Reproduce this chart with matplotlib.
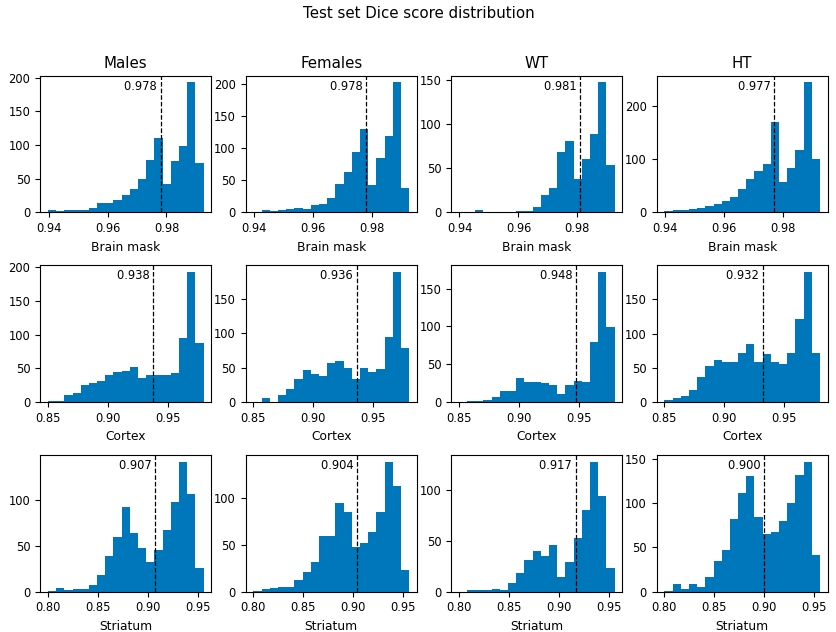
import numpy as np
import matplotlib.pyplot as plt

# groups (columns) and structures (rows)
groups = ["Males", "Females", "WT", "HT"]
structures = ["Brain mask", "Cortex", "Striatum"]

# histogram bin range per structure (19 equal bins)
bin_lo = [0.9398, 0.8502, 0.8003]
bin_hi = [0.9926, 0.9797, 0.9556]
n_bins = 19

# bin counts
males_brain = [3, 2, 3, 3, 3, 6, 14, 14, 18, 25, 35, 50, 78, 110, 42, 76, 98, 193, 73]
females_brain = [0, 3, 2, 3, 5, 7, 5, 11, 13, 22, 44, 63, 94, 130, 43, 84, 119, 202, 38]
wt_brain = [0, 0, 3, 0, 0, 0, 0, 1, 2, 6, 19, 27, 68, 81, 38, 60, 88, 147, 54]
ht_brain = [2, 4, 4, 6, 8, 12, 16, 22, 28, 43, 62, 77, 91, 171, 57, 83, 117, 245, 100]

males_cortex = [2, 2, 10, 13, 25, 28, 31, 40, 44, 46, 52, 35, 40, 40, 40, 43, 95, 193, 87]
females_cortex = [0, 5, 0, 10, 19, 34, 46, 41, 38, 57, 59, 50, 34, 50, 43, 48, 94, 189, 79]
wt_cortex = [0, 1, 1, 2, 7, 14, 14, 31, 26, 26, 25, 23, 10, 22, 28, 26, 79, 172, 99]
ht_cortex = [3, 6, 9, 18, 37, 52, 61, 58, 59, 71, 84, 59, 70, 59, 55, 72, 121, 190, 72]

males_striatum = [1, 4, 2, 3, 3, 7, 18, 39, 60, 92, 64, 48, 32, 45, 67, 98, 142, 107, 26]
females_striatum = [1, 3, 4, 5, 5, 12, 21, 32, 59, 59, 95, 85, 48, 52, 64, 85, 139, 113, 23]
wt_striatum = [0, 2, 2, 2, 3, 2, 8, 18, 31, 40, 35, 46, 14, 29, 53, 80, 128, 94, 23]
ht_striatum = [1, 8, 3, 9, 5, 17, 35, 47, 82, 112, 131, 84, 65, 67, 80, 100, 132, 147, 41]

counts = [
    [males_brain, females_brain, wt_brain, ht_brain],
    [males_cortex, females_cortex, wt_cortex, ht_cortex],
    [males_striatum, females_striatum, wt_striatum, ht_striatum],
]

# median Dice per structure / group
medians = [
    [0.978, 0.978, 0.981, 0.977],
    [0.938, 0.936, 0.948, 0.932],
    [0.907, 0.904, 0.917, 0.900],
]

color = "#0077bb"

fig, axes = plt.subplots(3, 4, figsize=(8.37, 6.32), dpi=100)
fig.subplots_adjust(left=0.048, right=0.989, top=0.880, bottom=0.064,
                    wspace=0.2, hspace=0.39)
fig.suptitle("Test set Dice score distribution", fontsize=10.8, y=0.99)

for i, struct in enumerate(structures):
    edges = np.linspace(bin_lo[i], bin_hi[i], n_bins + 1)
    for j, grp in enumerate(groups):
        ax = axes[i, j]
        ax.hist(edges[:-1], bins=edges, weights=counts[i][j], color=color)
        m = medians[i][j]
        ax.axvline(m, color="k", linestyle="--", linewidth=0.9)
        ax.text(m, 0.925, f"{m:.3f} ", transform=ax.get_xaxis_transform(),
                ha="right", va="center", fontsize=8.3)
        ax.set_xlabel(struct, fontsize=8.8)
        ax.tick_params(labelsize=8.3)
        if i == 0:
            ax.set_title(grp, fontsize=10.8)

fig.savefig("out.png")
